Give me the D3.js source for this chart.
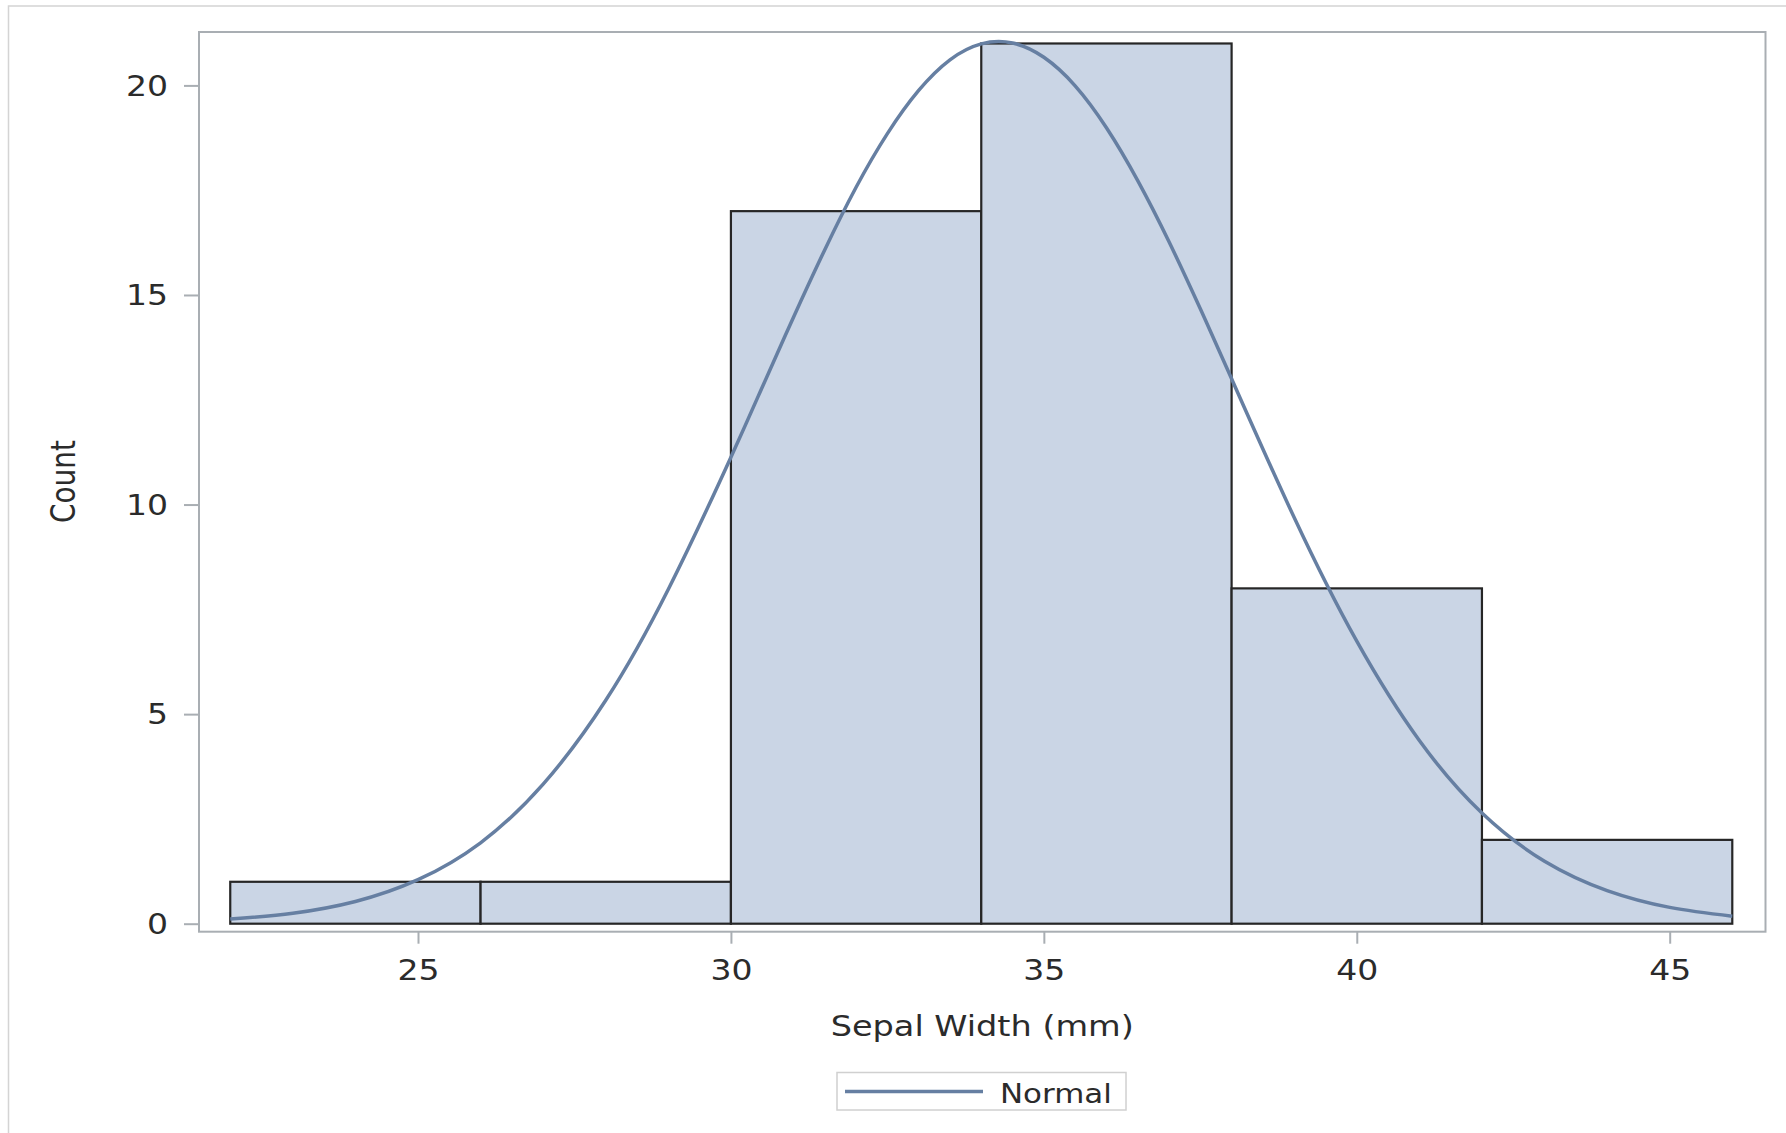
<!DOCTYPE html>
<html>
<head>
<meta charset="utf-8">
<script src="https://cdn.jsdelivr.net/npm/d3@7"></script>
<style>
	body { margin: 0; background: #fff; }
	text { font-family: 'DejaVu Sans', sans-serif; fill: #2b2b2b; }
</style>
</head>
<body>
<svg id="chart" width="1786" height="1133"></svg>
<script>
// histogram bins (lower edge, upper edge) and counts
const binStarts = [22, 26, 30, 34, 38, 42];
const binEnds = [26, 30, 34, 38, 42, 46];
const counts = [1, 1, 17, 21, 8, 2];

// fitted normal curve
const curveX = [22, 23, 24, 25, 26, 27, 28, 29, 30, 30.5, 31, 31.5, 32, 32.5, 33, 33.5, 34, 34.5, 35, 35.5, 36, 36.5, 37, 37.5, 38, 39, 40, 41, 42, 43, 44, 45, 46];
const curveY = [0.11, 0.25, 0.53, 1.05, 1.93, 3.33, 5.33, 7.98, 11.13, 12.8, 14.47, 16.08, 17.57, 18.85, 19.88, 20.61, 20.99, 21.01, 20.67, 19.99, 18.99, 17.73, 16.27, 14.67, 13.0, 9.69, 6.74, 4.37, 2.64, 1.49, 0.79, 0.39, 0.18];

const xTicks = [25, 30, 35, 40, 45];
const yTicks = [0, 5, 10, 15, 20];

const X_LABEL = 'Sepal Width (mm)';
const Y_LABEL = 'Count';
const LEGEND_LABEL = 'Normal';

const SVG_ITEM = d3.select('#chart');
const SX = 1.18; // text in the source is stretched sideways
const FONT = 28; // px
const FRAME = { left: 199, top: 32, right: 1765.5, bottom: 931.7 };
const BAR_FILL = '#cad5e5';
const FIT_COLOR = '#667fa2';
const AXIS_COLOR = '#a9aeb3';

const xScale = d3.scaleLinear().domain([25, 45]).range([418, 1669.7]);
const yScale = d3.scaleLinear().domain([0, 20]).range([923.7, 85.4]);

// outer border (only left and top are visible)
SVG_ITEM.append('rect')
	.attr('x', 8.5).attr('y', 6)
	.attr('width', 2000).attr('height', 2000)
	.attr('fill', 'none')
	.attr('stroke', '#d4d4d4')
	.attr('stroke-width', 1.5);

// bars
const bins = binStarts.map((b, i) => ({ x0: b, x1: binEnds[i], n: counts[i] }));
SVG_ITEM.selectAll('rect.bar')
	.data(bins)
	.enter()
	.append('rect')
	.attr('class', 'bar')
	.attr('x', (d) => xScale(d.x0))
	.attr('y', (d) => yScale(d.n))
	.attr('width', (d) => xScale(d.x1) - xScale(d.x0))
	.attr('height', (d) => yScale(0) - yScale(d.n))
	.attr('fill', BAR_FILL)
	.attr('stroke', '#262626')
	.attr('stroke-width', 2.2);

// normal curve
const fitLine = d3.line()
	.x((d) => xScale(d[0]))
	.y((d) => yScale(d[1]))
	.curve(d3.curveNatural);
SVG_ITEM.append('path')
	.datum(curveX.map((x, i) => [x, curveY[i]]))
	.attr('d', fitLine)
	.attr('fill', 'none')
	.attr('stroke', FIT_COLOR)
	.attr('stroke-width', 3.5)
	.attr('stroke-linejoin', 'round');

// plot frame
SVG_ITEM.append('rect')
	.attr('x', FRAME.left).attr('y', FRAME.top)
	.attr('width', FRAME.right - FRAME.left)
	.attr('height', FRAME.bottom - FRAME.top)
	.attr('fill', 'none')
	.attr('stroke', AXIS_COLOR)
	.attr('stroke-width', 2);

// axes
const yAxis = d3.axisLeft(yScale).tickValues(yTicks).tickSize(15).tickFormat(d3.format('d'));
const gy = SVG_ITEM.append('g').attr('transform', 'translate(' + FRAME.left + ', 0)').call(yAxis);
gy.select('.domain').remove();
gy.selectAll('line').attr('stroke', AXIS_COLOR).attr('stroke-width', 2);
gy.selectAll('text')
	.attr('x', -31 / SX)
	.attr('dy', '0.35em')
	.attr('transform', 'scale(' + SX + ',1)')
	.style('font-size', FONT + 'px')
	.attr('fill', '#2b2b2b');

const xAxis = d3.axisBottom(xScale).tickValues(xTicks).tickSize(12).tickFormat(d3.format('d'));
const gx = SVG_ITEM.append('g').attr('transform', 'translate(0, ' + FRAME.bottom + ')').call(xAxis);
gx.select('.domain').remove();
gx.selectAll('line').attr('stroke', AXIS_COLOR).attr('stroke-width', 2);
gx.selectAll('text')
	.attr('y', 39)
	.attr('dy', '0.35em')
	.attr('transform', 'scale(' + SX + ',1)')
	.style('font-size', FONT + 'px')
	.attr('fill', '#2b2b2b');
SVG_ITEM.selectAll('g').attr('font-family', null);

// axis titles
const midX = (FRAME.left + FRAME.right) / 2;
SVG_ITEM.append('text')
	.attr('transform', 'translate(' + midX + ',1036) scale(' + (SX * 1.015) + ',1)')
	.attr('text-anchor', 'middle')
	.style('font-size', FONT + 'px')
	.text(X_LABEL);

SVG_ITEM.append('text')
	.attr('transform', 'translate(75,481.5) rotate(-90) scale(1,' + SX + ')')
	.attr('text-anchor', 'middle')
	.style('font-size', FONT + 'px')
	.text(Y_LABEL);

// legend
const legend = SVG_ITEM.append('g');
legend.append('rect')
	.attr('x', 837).attr('y', 1072.5)
	.attr('width', 289).attr('height', 37.5)
	.attr('fill', '#fff')
	.attr('stroke', '#d0d0d0')
	.attr('stroke-width', 1.5);
legend.append('line')
	.attr('x1', 845).attr('x2', 983)
	.attr('y1', 1091.5).attr('y2', 1091.5)
	.attr('stroke', FIT_COLOR)
	.attr('stroke-width', 3.5);
legend.append('text')
	.attr('transform', 'translate(1000,1102.5) scale(' + (SX * 0.97) + ',1)')
	.style('font-size', (FONT - 1) + 'px')
	.text(LEGEND_LABEL);
</script>
</body>
</html>
